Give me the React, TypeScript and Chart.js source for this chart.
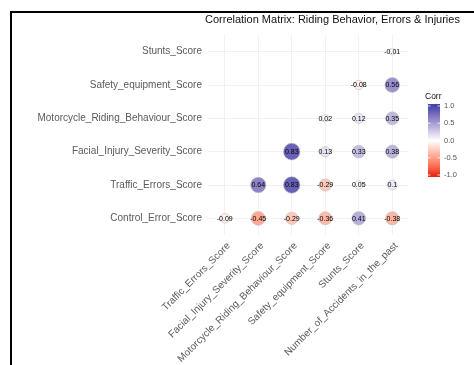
import { useEffect, useRef } from "react";
import { Chart, registerables } from "chart.js";

Chart.register(...registerables);

// ---- data ----
const chartTitle = "Correlation Matrix: Riding Behavior, Errors & Injuries";
const legendTitle = "Corr";

// y axis categories, bottom to top
const rowLabels = [
  "Control_Error_Score",
  "Traffic_Errors_Score",
  "Facial_Injury_Severity_Score",
  "Motorcycle_Riding_Behaviour_Score",
  "Safety_equipment_Score",
  "Stunts_Score",
];

// x axis categories, left to right
const colLabels = [
  "Traffic_Errors_Score",
  "Facial_Injury_Severity_Score",
  "Motorcycle_Riding_Behaviour_Score",
  "Safety_equipment_Score",
  "Stunts_Score",
  "Number_of_Accidents_in_the_past",
];

// correlation values per row (null = not shown)
const controlErrorRow = [-0.09, -0.45, -0.29, -0.36, 0.41, -0.38];
const trafficErrorsRow = [null, 0.64, 0.83, -0.29, 0.05, 0.1];
const facialInjuryRow = [null, null, 0.83, 0.13, 0.33, 0.38];
const motorcycleRidingRow = [null, null, null, 0.02, 0.12, 0.35];
const safetyEquipmentRow = [null, null, null, null, -0.08, 0.56];
const stuntsRow = [null, null, null, null, null, -0.01];

const legendTicks = [1.0, 0.5, 0.0, -0.5, -1.0];

const lowColor = "#E8281C";
const midColor = "#FFFFFF";
const highColor = "#4544A6";

const FONT = "'Liberation Sans', Arial, Helvetica, sans-serif";

// ---- colour helpers (Lab interpolation, like a diverging gradient) ----
function hexToRgb(h: string): number[] {
  const s = h.replace("#", "");
  return [0, 2, 4].map((i) => parseInt(s.slice(i, i + 2), 16));
}
function toLin(c: number) {
  c /= 255;
  return c <= 0.04045 ? c / 12.92 : Math.pow((c + 0.055) / 1.055, 2.4);
}
function fromLin(c: number) {
  const v = c <= 0.0031308 ? 12.92 * c : 1.055 * Math.pow(c, 1 / 2.4) - 0.055;
  return Math.max(0, Math.min(255, Math.round(v * 255)));
}
const WX = 0.95047, WY = 1.0, WZ = 1.08883;
function rgbToLab(rgb: number[]): number[] {
  const [r, g, b] = rgb.map(toLin);
  const x = (r * 0.4124 + g * 0.3576 + b * 0.1805) / WX;
  const y = (r * 0.2126 + g * 0.7152 + b * 0.0722) / WY;
  const z = (r * 0.0193 + g * 0.1192 + b * 0.9505) / WZ;
  const f = (t: number) => (t > 0.008856 ? Math.cbrt(t) : 7.787 * t + 16 / 116);
  const fx = f(x), fy = f(y), fz = f(z);
  return [116 * fy - 16, 500 * (fx - fy), 200 * (fy - fz)];
}
function labToRgb(lab: number[]): number[] {
  const [L, A, B] = lab;
  const fy = (L + 16) / 116;
  const fx = fy + A / 500;
  const fz = fy - B / 200;
  const inv = (t: number) => (t * t * t > 0.008856 ? t * t * t : (t - 16 / 116) / 7.787);
  const x = inv(fx) * WX, y = inv(fy) * WY, z = inv(fz) * WZ;
  const r = x * 3.2406 + y * -1.5372 + z * -0.4986;
  const g = x * -0.9689 + y * 1.8758 + z * 0.0415;
  const b = x * 0.0557 + y * -0.204 + z * 1.057;
  return [fromLin(r), fromLin(g), fromLin(b)];
}
const lowLab = rgbToLab(hexToRgb(lowColor));
const midLab = rgbToLab(hexToRgb(midColor));
const highLab = rgbToLab(hexToRgb(highColor));
function corrColor(v: number): string {
  const t = Math.min(1, Math.abs(v));
  const end = v < 0 ? lowLab : highLab;
  const lab = midLab.map((m, i) => m + (end[i] - m) * t);
  const [r, g, b] = labToRgb(lab);
  return `rgb(${r},${g},${b})`;
}

// ---- build points ----
const matrixRows = [
  controlErrorRow,
  trafficErrorsRow,
  facialInjuryRow,
  motorcycleRidingRow,
  safetyEquipmentRow,
  stuntsRow,
];

type Cell = { x: number; y: number; r: number; v: number };

const absValues = matrixRows.flat().filter((v) => v !== null).map((v) => Math.abs(v as number));
const minAbs = Math.min(...absValues);
const maxAbs = Math.max(...absValues);
const R_MIN = 3.2;
const R_MAX = 8.3;
function radiusFor(v: number) {
  const t = (Math.abs(v) - minAbs) / (maxAbs - minAbs);
  return R_MIN + Math.sqrt(Math.max(0, t)) * (R_MAX - R_MIN);
}

const cells: Cell[] = [];
matrixRows.forEach((row, yi) => {
  row.forEach((v, xi) => {
    if (v === null) return;
    cells.push({ x: xi, y: yi, r: radiusFor(v), v });
  });
});

// ---- plugins ----
const valueLabels = {
  id: "valueLabels",
  afterDatasetsDraw(chart: any) {
    const ctx = chart.ctx;
    const meta = chart.getDatasetMeta(0);
    ctx.save();
    ctx.font = `7px ${FONT}`;
    ctx.fillStyle = "#000000";
    ctx.textAlign = "center";
    ctx.textBaseline = "middle";
    meta.data.forEach((el: any, k: number) => {
      ctx.fillText(String(cells[k].v), el.x, el.y + 0.5);
    });
    ctx.restore();
  },
};

const decorations = {
  id: "decorations",
  afterDraw(chart: any) {
    const ctx = chart.ctx;
    ctx.save();
    // frame
    ctx.fillStyle = "#000000";
    ctx.fillRect(10, 11, 474 - 10, 2);
    ctx.fillRect(10, 11, 2, 365 - 11);

    // title
    ctx.font = `11px ${FONT}`;
    ctx.fillStyle = "#111111";
    ctx.textAlign = "left";
    ctx.textBaseline = "middle";
    ctx.fillText(chartTitle, 205, 20);

    // colour bar legend
    const barX = 428;
    const barW = 12;
    const mid = 140.5;
    const half = 34.5;
    const yOf = (v: number) => mid - v * half;
    const top = yOf(1) - 2;
    const bottom = yOf(-1) + 2;
    for (let y = top; y < bottom; y += 1) {
      const v = Math.max(-1, Math.min(1, (mid - (y + 0.5)) / half));
      ctx.fillStyle = corrColor(v);
      ctx.fillRect(barX, y, barW, 1);
    }
    ctx.strokeStyle = "#FFFFFF";
    ctx.lineWidth = 0.8;
    legendTicks.forEach((t) => {
      const y = yOf(t);
      ctx.beginPath();
      ctx.moveTo(barX, y);
      ctx.lineTo(barX + 2.5, y);
      ctx.moveTo(barX + barW - 2.5, y);
      ctx.lineTo(barX + barW, y);
      ctx.stroke();
    });

    ctx.font = `7.5px ${FONT}`;
    ctx.fillStyle = "#555555";
    ctx.textAlign = "left";
    ctx.textBaseline = "middle";
    legendTicks.forEach((t) => {
      ctx.fillText(t.toFixed(1), barX + barW + 4, yOf(t));
    });

    ctx.font = `8.5px ${FONT}`;
    ctx.fillStyle = "#111111";
    ctx.fillText(legendTitle, 425, 97);
    ctx.restore();
  },
};

export default function App() {
  const canvasRef = useRef<HTMLCanvasElement | null>(null);

  useEffect(() => {
    const canvas = canvasRef.current;
    if (!canvas) return;
    const chart = new Chart(canvas, {
      type: "bubble",
      data: {
        datasets: [
          {
            data: cells as any,
            backgroundColor: (ctx: any) => corrColor(ctx.raw ? ctx.raw.v : 0),
            borderColor: "#BEBEBE",
            borderWidth: 0.6,
            hoverRadius: 0,
            hoverBorderWidth: 0.6,
          },
        ],
      },
      options: {
        responsive: false,
        animation: false,
        events: [],
        layout: { padding: { top: 35, right: 65, left: 0, bottom: 0 } },
        plugins: {
          legend: { display: false },
          tooltip: { enabled: false },
          title: { display: false },
        },
        scales: {
          x: {
            type: "linear",
            min: -0.5,
            max: 5.5,
            afterBuildTicks: (s: any) => {
              s.ticks = colLabels.map((_, i) => ({ value: i }));
            },
            afterFit: (s: any) => {
              s.height = 130;
            },
            ticks: {
              autoSkip: false,
              minRotation: 45,
              maxRotation: 45,
              padding: 5,
              labelOffset: 4,
              color: "#5A5A5A",
              font: { family: FONT, size: 10 },
              callback: (v: any) => colLabels[Math.round(Number(v))],
            },
            grid: { color: "#EDEDED", lineWidth: 0.8, drawTicks: false },
            border: { display: false },
          },
          y: {
            type: "linear",
            min: -0.5,
            max: 5.5,
            afterBuildTicks: (s: any) => {
              s.ticks = rowLabels.map((_, i) => ({ value: i }));
            },
            afterFit: (s: any) => {
              s.width = 208;
            },
            ticks: {
              autoSkip: false,
              padding: 6,
              color: "#5A5A5A",
              font: { family: FONT, size: 10 },
              callback: (v: any) => rowLabels[Math.round(Number(v))],
            },
            grid: { color: "#EDEDED", lineWidth: 0.8, drawTicks: false },
            border: { display: false },
          },
        },
      },
      plugins: [valueLabels, decorations],
    });
    return () => chart.destroy();
  }, []);

  return (
    <div style={{ position: "fixed", left: 0, top: 0, width: 474, height: 365, background: "#FFFFFF" }}>
      <canvas ref={canvasRef} width={474} height={365} style={{ display: "block" }} />
    </div>
  );
}
